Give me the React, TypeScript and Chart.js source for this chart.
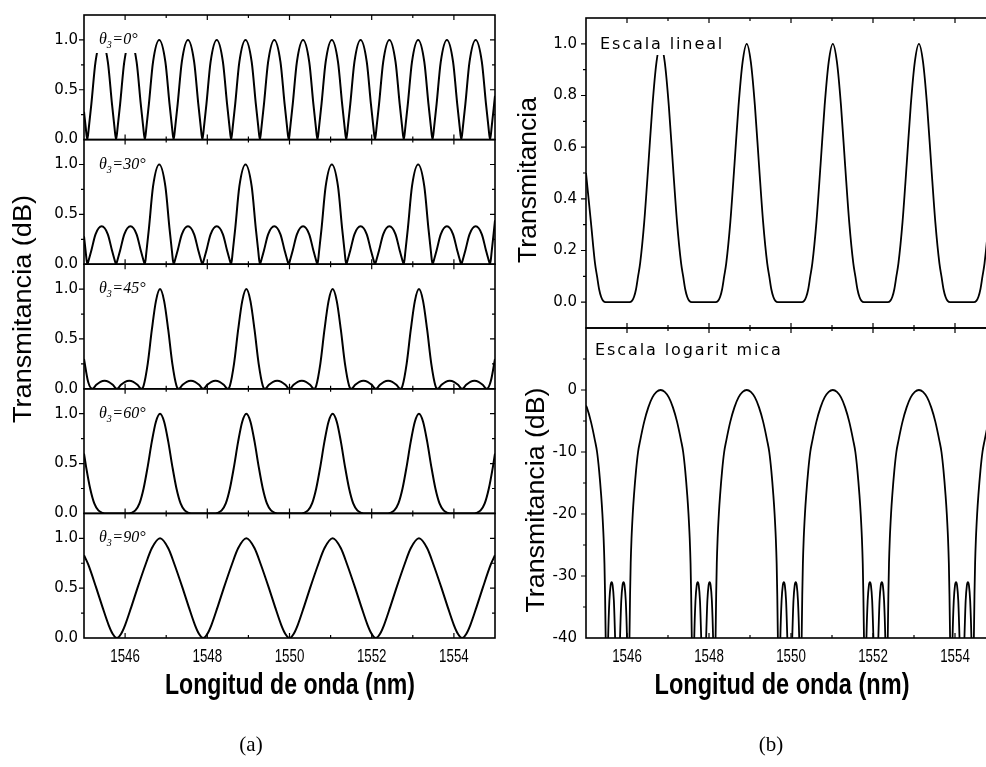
import { useEffect, useRef } from "react";
import { Chart, registerables } from "chart.js";

Chart.register(...registerables);

type Pt = [number, number];

// Wavelength axis (nm)
const wavelengthMin = 1545;
const wavelengthMax = 1555;
const wavelengthMajorTicks = [1546, 1548, 1550, 1552, 1554];
const wavelengthMinorTicks = [1547, 1549, 1551, 1553];

// Panel (a): one strip per polarizer angle
const thetaLabels = ["0°", "30°", "45°", "60°", "90°"];
const normalizedMajorTicks = [0, 0.5, 1.0];
const normalizedMinorTicks = [0.25, 0.75];

// Panel (b): linear and logarithmic scale
const linearMajorTicks = [0, 0.2, 0.4, 0.6, 0.8, 1.0];
const linearMinorTicks = [0.1, 0.3, 0.5, 0.7, 0.9];
const dbMajorTicks = [-40, -30, -20, -10, 0];
const dbMinorTicks = [-35, -25, -15, -5, 5];

// Transmittance vs wavelength, [nm, T]
const transTheta0: Pt[] = [
  [1545.00, 0.28], [1545.04, 0.13],
  [1545.08, 0], [1545.12, 0.13], [1545.18, 0.36], [1545.28, 0.78], [1545.43, 1], [1545.58, 0.78], [1545.68, 0.36], [1545.74, 0.13],
  [1545.78, 0], [1545.82, 0.13], [1545.88, 0.36], [1545.98, 0.78], [1546.13, 1], [1546.28, 0.78], [1546.38, 0.36], [1546.44, 0.13],
  [1546.48, 0], [1546.52, 0.13], [1546.58, 0.36], [1546.68, 0.78], [1546.83, 1], [1546.98, 0.78], [1547.08, 0.36], [1547.14, 0.13],
  [1547.18, 0], [1547.22, 0.13], [1547.28, 0.36], [1547.38, 0.78], [1547.53, 1], [1547.68, 0.78], [1547.78, 0.36], [1547.84, 0.13],
  [1547.88, 0], [1547.92, 0.13], [1547.98, 0.36], [1548.08, 0.78], [1548.23, 1], [1548.38, 0.78], [1548.48, 0.36], [1548.54, 0.13],
  [1548.58, 0], [1548.62, 0.13], [1548.68, 0.36], [1548.78, 0.78], [1548.93, 1], [1549.08, 0.78], [1549.18, 0.36], [1549.24, 0.13],
  [1549.28, 0], [1549.32, 0.13], [1549.38, 0.36], [1549.48, 0.78], [1549.63, 1], [1549.78, 0.78], [1549.88, 0.36], [1549.94, 0.13],
  [1549.98, 0], [1550.02, 0.13], [1550.08, 0.36], [1550.18, 0.78], [1550.33, 1], [1550.48, 0.78], [1550.58, 0.36], [1550.64, 0.13],
  [1550.68, 0], [1550.72, 0.13], [1550.78, 0.36], [1550.88, 0.78], [1551.03, 1], [1551.18, 0.78], [1551.28, 0.36], [1551.34, 0.13],
  [1551.38, 0], [1551.42, 0.13], [1551.48, 0.36], [1551.58, 0.78], [1551.73, 1], [1551.88, 0.78], [1551.98, 0.36], [1552.04, 0.13],
  [1552.08, 0], [1552.12, 0.13], [1552.18, 0.36], [1552.28, 0.78], [1552.43, 1], [1552.58, 0.78], [1552.68, 0.36], [1552.74, 0.13],
  [1552.78, 0], [1552.82, 0.13], [1552.88, 0.36], [1552.98, 0.78], [1553.13, 1], [1553.28, 0.78], [1553.38, 0.36], [1553.44, 0.13],
  [1553.48, 0], [1553.52, 0.13], [1553.58, 0.36], [1553.68, 0.78], [1553.83, 1], [1553.98, 0.78], [1554.08, 0.36], [1554.14, 0.13],
  [1554.18, 0], [1554.22, 0.13], [1554.28, 0.36], [1554.38, 0.78], [1554.53, 1], [1554.68, 0.78], [1554.78, 0.36], [1554.84, 0.13],
  [1554.88, 0], [1554.92, 0.13], [1554.98, 0.36], [1555.00, 0.44],
];

const transTheta30: Pt[] = [
  [1545.00, 0.28], [1545.04, 0.13],
  [1545.08, 0], [1545.12, 0.05], [1545.18, 0.14], [1545.28, 0.30], [1545.43, 0.38], [1545.58, 0.30], [1545.68, 0.14], [1545.74, 0.05],
  [1545.78, 0], [1545.82, 0.05], [1545.88, 0.14], [1545.98, 0.30], [1546.13, 0.38], [1546.28, 0.30], [1546.38, 0.14], [1546.44, 0.05],
  [1546.48, 0], [1546.52, 0.13], [1546.58, 0.36], [1546.68, 0.78], [1546.83, 1], [1546.98, 0.78], [1547.08, 0.36], [1547.14, 0.13],
  [1547.18, 0], [1547.22, 0.05], [1547.28, 0.14], [1547.38, 0.30], [1547.53, 0.38], [1547.68, 0.30], [1547.78, 0.14], [1547.84, 0.05],
  [1547.88, 0], [1547.92, 0.05], [1547.98, 0.14], [1548.08, 0.30], [1548.23, 0.38], [1548.38, 0.30], [1548.48, 0.14], [1548.54, 0.05],
  [1548.58, 0], [1548.62, 0.13], [1548.68, 0.36], [1548.78, 0.78], [1548.93, 1], [1549.08, 0.78], [1549.18, 0.36], [1549.24, 0.13],
  [1549.28, 0], [1549.32, 0.05], [1549.38, 0.14], [1549.48, 0.30], [1549.63, 0.38], [1549.78, 0.30], [1549.88, 0.14], [1549.94, 0.05],
  [1549.98, 0], [1550.02, 0.05], [1550.08, 0.14], [1550.18, 0.30], [1550.33, 0.38], [1550.48, 0.30], [1550.58, 0.14], [1550.64, 0.05],
  [1550.68, 0], [1550.72, 0.13], [1550.78, 0.36], [1550.88, 0.78], [1551.03, 1], [1551.18, 0.78], [1551.28, 0.36], [1551.34, 0.13],
  [1551.38, 0], [1551.42, 0.05], [1551.48, 0.14], [1551.58, 0.30], [1551.73, 0.38], [1551.88, 0.30], [1551.98, 0.14], [1552.04, 0.05],
  [1552.08, 0], [1552.12, 0.05], [1552.18, 0.14], [1552.28, 0.30], [1552.43, 0.38], [1552.58, 0.30], [1552.68, 0.14], [1552.74, 0.05],
  [1552.78, 0], [1552.82, 0.13], [1552.88, 0.36], [1552.98, 0.78], [1553.13, 1], [1553.28, 0.78], [1553.38, 0.36], [1553.44, 0.13],
  [1553.48, 0], [1553.52, 0.05], [1553.58, 0.14], [1553.68, 0.30], [1553.83, 0.38], [1553.98, 0.30], [1554.08, 0.14], [1554.14, 0.05],
  [1554.18, 0], [1554.22, 0.05], [1554.28, 0.14], [1554.38, 0.30], [1554.53, 0.38], [1554.68, 0.30], [1554.78, 0.14], [1554.84, 0.05],
  [1554.88, 0], [1554.92, 0.13], [1554.98, 0.36], [1555.00, 0.44],
];

const transTheta45: Pt[] = [
  [1545.00, 0.30], [1545.10, 0.07], [1545.20, 0],
  [1545.30, 0.04], [1545.40, 0.07], [1545.50, 0.08], [1545.60, 0.07], [1545.70, 0.04], [1545.80, 0],
  [1545.90, 0.04], [1546.00, 0.07], [1546.10, 0.08], [1546.20, 0.07], [1546.30, 0.04], [1546.40, 0],
  [1546.45, 0.03], [1546.55, 0.25], [1546.65, 0.59], [1546.75, 0.88], [1546.85, 1], [1546.95, 0.88], [1547.05, 0.59], [1547.15, 0.25], [1547.25, 0.03], [1547.30, 0],
  [1547.40, 0.04], [1547.50, 0.07], [1547.60, 0.08], [1547.70, 0.07], [1547.80, 0.04], [1547.90, 0],
  [1548.00, 0.04], [1548.10, 0.07], [1548.20, 0.08], [1548.30, 0.07], [1548.40, 0.04], [1548.50, 0],
  [1548.55, 0.03], [1548.65, 0.25], [1548.75, 0.59], [1548.85, 0.88], [1548.95, 1], [1549.05, 0.88], [1549.15, 0.59], [1549.25, 0.25], [1549.35, 0.03], [1549.40, 0],
  [1549.50, 0.04], [1549.60, 0.07], [1549.70, 0.08], [1549.80, 0.07], [1549.90, 0.04], [1550.00, 0],
  [1550.10, 0.04], [1550.20, 0.07], [1550.30, 0.08], [1550.40, 0.07], [1550.50, 0.04], [1550.60, 0],
  [1550.65, 0.03], [1550.75, 0.25], [1550.85, 0.59], [1550.95, 0.88], [1551.05, 1], [1551.15, 0.88], [1551.25, 0.59], [1551.35, 0.25], [1551.45, 0.03], [1551.50, 0],
  [1551.60, 0.04], [1551.70, 0.07], [1551.80, 0.08], [1551.90, 0.07], [1552.00, 0.04], [1552.10, 0],
  [1552.20, 0.04], [1552.30, 0.07], [1552.40, 0.08], [1552.50, 0.07], [1552.60, 0.04], [1552.70, 0],
  [1552.75, 0.03], [1552.85, 0.25], [1552.95, 0.59], [1553.05, 0.88], [1553.15, 1], [1553.25, 0.88], [1553.35, 0.59], [1553.45, 0.25], [1553.55, 0.03], [1553.60, 0],
  [1553.70, 0.04], [1553.80, 0.07], [1553.90, 0.08], [1554.00, 0.07], [1554.10, 0.04], [1554.20, 0],
  [1554.30, 0.04], [1554.40, 0.07], [1554.50, 0.08], [1554.60, 0.07], [1554.70, 0.04], [1554.80, 0],
  [1554.90, 0.08], [1555.00, 0.30],
];

const transTheta60: Pt[] = [
  [1545.00, 0.60], [1545.05, 0.47], [1545.15, 0.25], [1545.25, 0.10], [1545.35, 0.03], [1545.45, 0.005], [1545.50, 0],
  [1546.10, 0], [1546.15, 0.005], [1546.25, 0.03], [1546.35, 0.10], [1546.45, 0.25], [1546.55, 0.47], [1546.65, 0.72], [1546.75, 0.92],
  [1546.85, 1], [1546.95, 0.92], [1547.05, 0.72], [1547.15, 0.47], [1547.25, 0.25], [1547.35, 0.10], [1547.45, 0.03], [1547.55, 0.005], [1547.60, 0],
  [1548.20, 0], [1548.25, 0.005], [1548.35, 0.03], [1548.45, 0.10], [1548.55, 0.25], [1548.65, 0.47], [1548.75, 0.72], [1548.85, 0.92],
  [1548.95, 1], [1549.05, 0.92], [1549.15, 0.72], [1549.25, 0.47], [1549.35, 0.25], [1549.45, 0.10], [1549.55, 0.03], [1549.65, 0.005], [1549.70, 0],
  [1550.30, 0], [1550.35, 0.005], [1550.45, 0.03], [1550.55, 0.10], [1550.65, 0.25], [1550.75, 0.47], [1550.85, 0.72], [1550.95, 0.92],
  [1551.05, 1], [1551.15, 0.92], [1551.25, 0.72], [1551.35, 0.47], [1551.45, 0.25], [1551.55, 0.10], [1551.65, 0.03], [1551.75, 0.005], [1551.80, 0],
  [1552.40, 0], [1552.45, 0.005], [1552.55, 0.03], [1552.65, 0.10], [1552.75, 0.25], [1552.85, 0.47], [1552.95, 0.72], [1553.05, 0.92],
  [1553.15, 1], [1553.25, 0.92], [1553.35, 0.72], [1553.45, 0.47], [1553.55, 0.25], [1553.65, 0.10], [1553.75, 0.03], [1553.85, 0.005], [1553.90, 0],
  [1554.50, 0], [1554.55, 0.005], [1554.65, 0.03], [1554.75, 0.10], [1554.85, 0.25], [1554.95, 0.47], [1555.00, 0.60],
];

const transTheta90: Pt[] = [
  [1545.00, 0.83], [1545.10, 0.74], [1545.30, 0.50], [1545.45, 0.31], [1545.60, 0.13], [1545.70, 0.04],
  [1545.80, 0], [1545.90, 0.04], [1546.00, 0.13], [1546.15, 0.31], [1546.30, 0.50], [1546.50, 0.74], [1546.65, 0.90],
  [1546.85, 1], [1547.05, 0.90], [1547.20, 0.74], [1547.40, 0.50], [1547.55, 0.31], [1547.70, 0.13], [1547.80, 0.04],
  [1547.90, 0], [1548.00, 0.04], [1548.10, 0.13], [1548.25, 0.31], [1548.40, 0.50], [1548.60, 0.74], [1548.75, 0.90],
  [1548.95, 1], [1549.15, 0.90], [1549.30, 0.74], [1549.50, 0.50], [1549.65, 0.31], [1549.80, 0.13], [1549.90, 0.04],
  [1550.00, 0], [1550.10, 0.04], [1550.20, 0.13], [1550.35, 0.31], [1550.50, 0.50], [1550.70, 0.74], [1550.85, 0.90],
  [1551.05, 1], [1551.25, 0.90], [1551.40, 0.74], [1551.60, 0.50], [1551.75, 0.31], [1551.90, 0.13], [1552.00, 0.04],
  [1552.10, 0], [1552.20, 0.04], [1552.30, 0.13], [1552.45, 0.31], [1552.60, 0.50], [1552.80, 0.74], [1552.95, 0.90],
  [1553.15, 1], [1553.35, 0.90], [1553.50, 0.74], [1553.70, 0.50], [1553.85, 0.31], [1554.00, 0.13], [1554.10, 0.04],
  [1554.20, 0], [1554.30, 0.04], [1554.40, 0.13], [1554.55, 0.31], [1554.70, 0.50], [1554.90, 0.74], [1555.00, 0.83],
];

const transLinear: Pt[] = [
  [1545.00, 0.50], [1545.12, 0.31], [1545.22, 0.15], [1545.27, 0.10], [1545.32, 0.05], [1545.37, 0.02], [1545.42, 0.005], [1545.48, 0],
  [1546.06, 0], [1546.12, 0.005], [1546.17, 0.02], [1546.22, 0.05], [1546.27, 0.10], [1546.32, 0.15], [1546.42, 0.31], [1546.52, 0.53], [1546.62, 0.76], [1546.72, 0.93],
  [1546.82, 1], [1546.92, 0.93], [1547.02, 0.76], [1547.12, 0.53], [1547.22, 0.31], [1547.32, 0.15], [1547.37, 0.10], [1547.42, 0.05], [1547.47, 0.02], [1547.52, 0.005], [1547.58, 0],
  [1548.16, 0], [1548.22, 0.005], [1548.27, 0.02], [1548.32, 0.05], [1548.37, 0.10], [1548.42, 0.15], [1548.52, 0.31], [1548.62, 0.53], [1548.72, 0.76], [1548.82, 0.93],
  [1548.92, 1], [1549.02, 0.93], [1549.12, 0.76], [1549.22, 0.53], [1549.32, 0.31], [1549.42, 0.15], [1549.47, 0.10], [1549.52, 0.05], [1549.57, 0.02], [1549.62, 0.005], [1549.68, 0],
  [1550.26, 0], [1550.32, 0.005], [1550.37, 0.02], [1550.42, 0.05], [1550.47, 0.10], [1550.52, 0.15], [1550.62, 0.31], [1550.72, 0.53], [1550.82, 0.76], [1550.92, 0.93],
  [1551.02, 1], [1551.12, 0.93], [1551.22, 0.76], [1551.32, 0.53], [1551.42, 0.31], [1551.52, 0.15], [1551.57, 0.10], [1551.62, 0.05], [1551.67, 0.02], [1551.72, 0.005], [1551.78, 0],
  [1552.36, 0], [1552.42, 0.005], [1552.47, 0.02], [1552.52, 0.05], [1552.57, 0.10], [1552.62, 0.15], [1552.72, 0.31], [1552.82, 0.53], [1552.92, 0.76], [1553.02, 0.93],
  [1553.12, 1], [1553.22, 0.93], [1553.32, 0.76], [1553.42, 0.53], [1553.52, 0.31], [1553.62, 0.15], [1553.67, 0.10], [1553.72, 0.05], [1553.77, 0.02], [1553.82, 0.005], [1553.88, 0],
  [1554.46, 0], [1554.52, 0.005], [1554.57, 0.02], [1554.62, 0.05], [1554.67, 0.10], [1554.72, 0.15], [1554.82, 0.31], [1554.92, 0.53], [1555.00, 0.70],
];

// Same spectrum in dB; -55 marks the nulls that fall below the -40 dB floor
const transDb: Pt[] = [
  [1545.00, -2.5], [1545.02, -2.8], [1545.12, -5.1], [1545.22, -8.2], [1545.27, -10], [1545.32, -13], [1545.37, -17], [1545.40, -20], [1545.43, -24], [1545.45, -28], [1545.465, -33], [1545.48, -40], [1545.50, -55],
  [1545.54, -40], [1545.57, -34], [1545.60, -31.5], [1545.625, -31], [1545.65, -31.5], [1545.68, -34], [1545.71, -40], [1545.77, -55],
  [1545.83, -40], [1545.86, -34], [1545.89, -31.5], [1545.915, -31], [1545.94, -31.5], [1545.97, -34], [1546.00, -40], [1546.04, -55],
  [1546.06, -40], [1546.075, -33], [1546.09, -28], [1546.11, -24], [1546.14, -20], [1546.17, -17], [1546.22, -13], [1546.27, -10], [1546.32, -8.2], [1546.42, -5.1], [1546.52, -2.8], [1546.62, -1.2], [1546.72, -0.3],
  [1546.82, 0], [1546.92, -0.3], [1547.02, -1.2], [1547.12, -2.8], [1547.22, -5.1], [1547.32, -8.2], [1547.37, -10], [1547.42, -13], [1547.47, -17], [1547.50, -20], [1547.53, -24], [1547.55, -28], [1547.565, -33], [1547.58, -40], [1547.60, -55],
  [1547.64, -40], [1547.67, -34], [1547.70, -31.5], [1547.725, -31], [1547.75, -31.5], [1547.78, -34], [1547.81, -40], [1547.87, -55],
  [1547.93, -40], [1547.96, -34], [1547.99, -31.5], [1548.015, -31], [1548.04, -31.5], [1548.07, -34], [1548.10, -40], [1548.14, -55],
  [1548.16, -40], [1548.175, -33], [1548.19, -28], [1548.21, -24], [1548.24, -20], [1548.27, -17], [1548.32, -13], [1548.37, -10], [1548.42, -8.2], [1548.52, -5.1], [1548.62, -2.8], [1548.72, -1.2], [1548.82, -0.3],
  [1548.92, 0], [1549.02, -0.3], [1549.12, -1.2], [1549.22, -2.8], [1549.32, -5.1], [1549.42, -8.2], [1549.47, -10], [1549.52, -13], [1549.57, -17], [1549.60, -20], [1549.63, -24], [1549.65, -28], [1549.665, -33], [1549.68, -40], [1549.70, -55],
  [1549.74, -40], [1549.77, -34], [1549.80, -31.5], [1549.825, -31], [1549.85, -31.5], [1549.88, -34], [1549.91, -40], [1549.97, -55],
  [1550.03, -40], [1550.06, -34], [1550.09, -31.5], [1550.115, -31], [1550.14, -31.5], [1550.17, -34], [1550.20, -40], [1550.24, -55],
  [1550.26, -40], [1550.275, -33], [1550.29, -28], [1550.31, -24], [1550.34, -20], [1550.37, -17], [1550.42, -13], [1550.47, -10], [1550.52, -8.2], [1550.62, -5.1], [1550.72, -2.8], [1550.82, -1.2], [1550.92, -0.3],
  [1551.02, 0], [1551.12, -0.3], [1551.22, -1.2], [1551.32, -2.8], [1551.42, -5.1], [1551.52, -8.2], [1551.57, -10], [1551.62, -13], [1551.67, -17], [1551.70, -20], [1551.73, -24], [1551.75, -28], [1551.765, -33], [1551.78, -40], [1551.80, -55],
  [1551.84, -40], [1551.87, -34], [1551.90, -31.5], [1551.925, -31], [1551.95, -31.5], [1551.98, -34], [1552.01, -40], [1552.07, -55],
  [1552.13, -40], [1552.16, -34], [1552.19, -31.5], [1552.215, -31], [1552.24, -31.5], [1552.27, -34], [1552.30, -40], [1552.34, -55],
  [1552.36, -40], [1552.375, -33], [1552.39, -28], [1552.41, -24], [1552.44, -20], [1552.47, -17], [1552.52, -13], [1552.57, -10], [1552.62, -8.2], [1552.72, -5.1], [1552.82, -2.8], [1552.92, -1.2], [1553.02, -0.3],
  [1553.12, 0], [1553.22, -0.3], [1553.32, -1.2], [1553.42, -2.8], [1553.52, -5.1], [1553.62, -8.2], [1553.67, -10], [1553.72, -13], [1553.77, -17], [1553.80, -20], [1553.83, -24], [1553.85, -28], [1553.865, -33], [1553.88, -40], [1553.90, -55],
  [1553.94, -40], [1553.97, -34], [1554.00, -31.5], [1554.025, -31], [1554.05, -31.5], [1554.08, -34], [1554.11, -40], [1554.17, -55],
  [1554.23, -40], [1554.26, -34], [1554.29, -31.5], [1554.315, -31], [1554.34, -31.5], [1554.37, -34], [1554.40, -40], [1554.44, -55],
  [1554.46, -40], [1554.475, -33], [1554.49, -28], [1554.51, -24], [1554.54, -20], [1554.57, -17], [1554.62, -13], [1554.67, -10], [1554.72, -8.2], [1554.82, -5.1], [1554.92, -2.8], [1555.00, -1.6],
];

const SANS = '"Liberation Sans", Arial, sans-serif';
const SERIF = '"Liberation Serif", "Times New Roman", serif';
const DEJAVU = '"DejaVu Sans", sans-serif';

type Ctx = CanvasRenderingContext2D;

type PanelSpec = {
  id: string;
  min: number;
  max: number;
  major: number[];
  minor: number[];
  format: (v: number) => string;
  data: Pt[];
  drawNote: (ctx: Ctx, left: number, top: number) => void;
};

type TextSpec = {
  text: string;
  x: number;
  y: number;
  font: string;
  width?: number;
  scaleX?: number;
  rotate?: boolean;
};

type FigureSpec = {
  key: string;
  canvasLeft: number;
  canvasWidth: number;
  axisWidth: number;
  tickPad: number;
  lineWidth: number;
  padding: { left: number; right: number; top: number; bottom: number };
  panels: PanelSpec[];
  tickLabelY: number;
  tickLabelFont: string;
  tickLabelScaleX: number;
  texts: TextSpec[];
};

function drawText(ctx: Ctx, t: TextSpec) {
  ctx.save();
  ctx.translate(t.x, t.y);
  if (t.rotate) ctx.rotate(-Math.PI / 2);
  ctx.font = t.font;
  ctx.fillStyle = "#000";
  ctx.textAlign = "center";
  ctx.textBaseline = "middle";
  let sx = t.scaleX ?? 1;
  if (t.width) sx = t.width / ctx.measureText(t.text).width;
  ctx.scale(sx, 1);
  ctx.fillText(t.text, 0, 0);
  ctx.restore();
}

// Italic "θ3=..." tag in the upper-left corner of each strip, on a white box
function thetaNote(angle: string) {
  return (ctx: Ctx, left: number, top: number) => {
    const x = left + 15;
    const base = top + 29;
    const big = `italic 16px ${SERIF}`;
    const small = `italic 10px ${SERIF}`;
    ctx.font = big;
    const wTheta = ctx.measureText("θ").width;
    const wRest = ctx.measureText("=" + angle).width;
    ctx.font = small;
    const wSub = ctx.measureText("3").width;
    const total = wTheta + wSub + 0.5 + wRest;
    ctx.fillStyle = "#fff";
    ctx.fillRect(x - 5, top + 12, Math.max(43, total + 8), 26);
    ctx.fillStyle = "#000";
    ctx.textAlign = "left";
    ctx.textBaseline = "alphabetic";
    ctx.font = big;
    ctx.fillText("θ", x, base);
    ctx.font = small;
    ctx.fillText("3", x + wTheta, base + 4);
    ctx.font = big;
    ctx.fillText("=" + angle, x + wTheta + wSub + 0.5, base);
  };
}

// Letter-spaced caption inside a strip of panel (b), on a white box
function spacedNote(text: string, dx: number, baseOff: number, boxTop: number, boxBottom: number) {
  return (ctx: Ctx, left: number, top: number) => {
    const spacing = 1.9;
    ctx.font = `16px ${DEJAVU}`;
    const chars = Array.from(text);
    const widths = chars.map((c) => ctx.measureText(c).width);
    const total = widths.reduce((a, b) => a + b + spacing, 0) - spacing;
    const x = left + dx;
    ctx.fillStyle = "#fff";
    ctx.fillRect(x - 3, top + boxTop, total + 6, boxBottom - boxTop);
    ctx.fillStyle = "#000";
    ctx.textAlign = "left";
    ctx.textBaseline = "alphabetic";
    let cx = x;
    chars.forEach((c, i) => {
      ctx.fillText(c, cx, top + baseOff);
      cx += widths[i] + spacing;
    });
  };
}

const fmt1 = (v: number) => v.toFixed(1);
const fmt0 = (v: number) => String(v);

const thetaSeries = [transTheta0, transTheta30, transTheta45, transTheta60, transTheta90];

const figureA: FigureSpec = {
  key: "a",
  canvasLeft: 0,
  canvasWidth: 500,
  axisWidth: 84,
  tickPad: 6,
  lineWidth: 2,
  padding: { left: 0, right: 5, top: 7, bottom: 129 },
  panels: thetaLabels.map((angle, i) => ({
    id: `a${i}`,
    min: 0,
    max: 1.25,
    major: normalizedMajorTicks,
    minor: normalizedMinorTicks,
    format: fmt1,
    data: thetaSeries[i],
    drawNote: thetaNote(angle),
  })),
  tickLabelY: 657,
  tickLabelFont: `18px ${SANS}`,
  tickLabelScaleX: 0.74,
  texts: [
    { text: "Transmitancia (dB)", x: 24, y: 309, font: `26px ${SANS}`, width: 228, rotate: true },
    { text: "Longitud de onda (nm)", x: 290, y: 686, font: `bold 29px ${SANS}`, width: 250 },
    { text: "(a)", x: 251, y: 745, font: `21px ${SERIF}` },
  ],
};

const figureB: FigureSpec = {
  key: "b",
  canvasLeft: 500,
  canvasWidth: 510,
  axisWidth: 86,
  tickPad: 9,
  lineWidth: 1.8,
  padding: { left: 0, right: 14, top: 6, bottom: 129 },
  panels: [
    {
      id: "b0",
      min: -0.1,
      max: 1.1,
      major: linearMajorTicks,
      minor: linearMinorTicks,
      format: fmt1,
      data: transLinear,
      drawNote: spacedNote("Escala lineal", 14, 31, 12, 37),
    },
    {
      id: "b1",
      min: -40,
      max: 10,
      major: dbMajorTicks,
      minor: dbMinorTicks,
      format: fmt0,
      data: transDb,
      drawNote: spacedNote("Escala logarit mica", 9, 27, 10, 33),
    },
  ],
  tickLabelY: 657,
  tickLabelFont: `18px ${SANS}`,
  tickLabelScaleX: 0.74,
  texts: [
    { text: "Transmitancia", x: 29, y: 180, font: `26px ${SANS}`, width: 166, rotate: true },
    { text: "Transmitancia (dB)", x: 37, y: 500, font: `26px ${SANS}`, width: 225, rotate: true },
    { text: "Longitud de onda (nm)", x: 282, y: 686, font: `bold 29px ${SANS}`, width: 255 },
    { text: "(b)", x: 271, y: 745, font: `21px ${SERIF}` },
  ],
};

function framePlugin(spec: FigureSpec) {
  return {
    id: `frames-${spec.key}`,
    afterDatasetsDraw(chart: any) {
      const ctx: Ctx = chart.ctx;
      const area = chart.chartArea;
      const xs = chart.scales.x;
      ctx.save();
      spec.panels.forEach((p) => {
        const ys = chart.scales[p.id];
        const L = area.left;
        const R = area.right;
        const T = ys.top;
        const B = ys.bottom;
        p.drawNote(ctx, L, T);
        ctx.strokeStyle = "#000";
        ctx.lineWidth = 1.2;
        ctx.beginPath();
        const xTick = (v: number, len: number) => {
          const px = xs.getPixelForValue(v);
          ctx.moveTo(px, B);
          ctx.lineTo(px, B - len);
          ctx.moveTo(px, T);
          ctx.lineTo(px, T + len);
        };
        const yTick = (v: number, len: number) => {
          const py = ys.getPixelForValue(v);
          if (py < T + 1 || py > B - 1) return;
          ctx.moveTo(L - len, py);
          ctx.lineTo(L, py);
          ctx.moveTo(R, py);
          ctx.lineTo(R - len, py);
        };
        wavelengthMajorTicks.forEach((v) => xTick(v, 5));
        wavelengthMinorTicks.forEach((v) => xTick(v, 3));
        p.major.forEach((v) => yTick(v, 5));
        p.minor.forEach((v) => yTick(v, 3));
        ctx.stroke();
        ctx.lineWidth = 1.6;
        ctx.strokeRect(L, T, R - L, B - T);
      });
      ctx.restore();
    },
    afterDraw(chart: any) {
      const ctx: Ctx = chart.ctx;
      const xs = chart.scales.x;
      wavelengthMajorTicks.forEach((v) =>
        drawText(ctx, {
          text: String(v),
          x: xs.getPixelForValue(v),
          y: spec.tickLabelY,
          font: spec.tickLabelFont,
          scaleX: spec.tickLabelScaleX,
        })
      );
      spec.texts.forEach((t) => drawText(ctx, t));
    },
  };
}

function buildConfig(spec: FigureSpec): any {
  const scales: any = {
    x: { type: "linear", min: wavelengthMin, max: wavelengthMax, display: false },
  };
  const datasets: any[] = [];
  spec.panels.forEach((p, i) => {
    scales[p.id] = {
      type: "linear",
      position: "left",
      stack: `strip-${spec.key}`,
      stackWeight: 1,
      weight: spec.panels.length - i,
      min: p.min,
      max: p.max,
      afterBuildTicks: (s: any) => {
        s.ticks = p.major.map((value) => ({ value }));
      },
      afterFit: (s: any) => {
        s.width = spec.axisWidth;
      },
      ticks: {
        color: "#000",
        font: { family: DEJAVU, size: 15 },
        padding: spec.tickPad,
        callback: (v: number) => p.format(v),
      },
      grid: { display: false, drawTicks: false },
      border: { display: false },
    };
    datasets.push({
      data: p.data.map(([x, y]) => ({ x, y })),
      xAxisID: "x",
      yAxisID: p.id,
      borderColor: "#000",
      borderWidth: spec.lineWidth,
      pointRadius: 0,
      fill: false,
      cubicInterpolationMode: "monotone",
    });
  });
  return {
    type: "line",
    data: { datasets },
    options: {
      responsive: false,
      animation: false,
      devicePixelRatio: 1,
      parsing: false,
      normalized: true,
      events: [],
      layout: { padding: spec.padding },
      plugins: { legend: { display: false }, tooltip: { enabled: false } },
      scales,
    },
    plugins: [framePlugin(spec)],
  };
}

function Figure({ spec }: { spec: FigureSpec }) {
  const ref = useRef<HTMLCanvasElement>(null);
  useEffect(() => {
    if (!ref.current) return;
    const chart = new Chart(ref.current, buildConfig(spec));
    return () => chart.destroy();
  }, [spec]);
  return (
    <canvas
      ref={ref}
      width={spec.canvasWidth}
      height={767}
      style={{ position: "absolute", left: spec.canvasLeft, top: 0, width: spec.canvasWidth, height: 767 }}
    />
  );
}

export default function App() {
  return (
    <div
      style={{
        position: "fixed",
        left: 0,
        top: 0,
        width: 986,
        height: 767,
        overflow: "hidden",
        background: "#fff",
      }}
    >
      <Figure spec={figureA} />
      <Figure spec={figureB} />
    </div>
  );
}
